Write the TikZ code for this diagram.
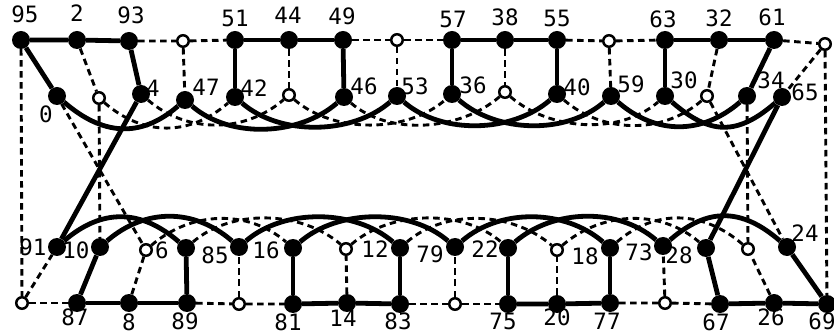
\documentclass[tikz,border=0pt]{standalone}
\usepackage{fontspec}
\newfontfamily\lblfont{DejaVu Sans Mono}
\pgfdeclarelayer{edges}
\pgfsetlayers{edges,main}
\begin{document}
\begin{tikzpicture}[x=1pt,y=-1pt,
  fnode/.style={circle,fill=black,inner sep=0pt,minimum size=18pt},
  onode/.style={circle,draw=black,fill=white,line width=2.5pt,inner sep=0pt,minimum size=11.5pt},
  lbl/.style={inner sep=0pt,font=\lblfont\fontsize{22.5}{24}\selectfont},
  sedge/.style={line width=4.8pt},
  dedge/.style={line width=2.9pt,dash pattern=on 6.5pt off 4.5pt}]
\useasboundingbox (0,0) rectangle (834,336);
% row 1
\node[fnode] (n95) at (21,40) {};
\node[fnode] (n2) at (77,40) {};
\node[fnode] (n93) at (129,41) {};
\node[onode] (t1) at (183,41) {};
\node[fnode] (n51) at (235,40) {};
\node[fnode] (n44) at (289,40) {};
\node[fnode] (n49) at (343,40) {};
\node[onode] (t2) at (397,40) {};
\node[fnode] (n57) at (452,40) {};
\node[fnode] (n38) at (505,40) {};
\node[fnode] (n55) at (557,40) {};
\node[onode] (t3) at (609,41) {};
\node[fnode] (n63) at (665,40) {};
\node[fnode] (n32) at (719,40) {};
\node[fnode] (n61) at (774,40) {};
\node[onode] (t4) at (825,44) {};
% row 2
\node[fnode] (n0) at (57,96) {};
\node[onode] (u1) at (99,98) {};
\node[fnode] (n4) at (141,94) {};
\node[fnode] (n47) at (185,100) {};
\node[fnode] (n42) at (235,97) {};
\node[onode] (u2) at (289,95) {};
\node[fnode] (n46) at (344,97) {};
\node[fnode] (n53) at (397,96) {};
\node[fnode] (n36) at (452,94) {};
\node[onode] (u3) at (505,92) {};
\node[fnode] (n40) at (557,94) {};
\node[fnode] (n59) at (611,96) {};
\node[fnode] (n30) at (665,96) {};
\node[onode] (u4) at (707,96) {};
\node[fnode] (n34) at (747,96) {};
\node[fnode] (n65) at (782,97) {};
% row 3
\node[fnode] (n91) at (57,247) {};
\node[fnode] (n10) at (100,247) {};
\node[onode] (v1) at (146,250) {};
\node[fnode] (n6) at (186,248) {};
\node[fnode] (n85) at (239,247) {};
\node[fnode] (n16) at (293,248) {};
\node[onode] (v2) at (346,249) {};
\node[fnode] (n12) at (400,248) {};
\node[fnode] (n79) at (455,247) {};
\node[fnode] (n22) at (508,248) {};
\node[onode] (v3) at (557,250) {};
\node[fnode] (n18) at (610,248) {};
\node[fnode] (n73) at (663,246) {};
\node[fnode] (n28) at (706,248) {};
\node[onode] (v4) at (748,249) {};
\node[fnode] (n24) at (787,247) {};
% row 4
\node[onode] (w1) at (22,303) {};
\node[fnode] (n87) at (77,303) {};
\node[fnode] (n8) at (129,303) {};
\node[fnode] (n89) at (187,303) {};
\node[onode] (w2) at (239,304) {};
\node[fnode] (n81) at (293,304) {};
\node[fnode] (n14) at (347,303) {};
\node[fnode] (n83) at (400,304) {};
\node[onode] (w3) at (455,304) {};
\node[fnode] (n75) at (508,304) {};
\node[fnode] (n20) at (557,304) {};
\node[fnode] (n77) at (610,303) {};
\node[onode] (w4) at (665,303) {};
\node[fnode] (n67) at (720,304) {};
\node[fnode] (n26) at (774,303) {};
\node[fnode] (n69) at (827,304) {};
% labels
\node[lbl] (l95) at (25,14) {95};
\node[lbl] (l2) at (77,13) {2};
\node[lbl] (l93) at (131,15) {93};
\node[lbl] (l51) at (235,18) {51};
\node[lbl] (l44) at (288,15) {44};
\node[lbl] (l49) at (342,16) {49};
\node[lbl] (l57) at (453,19) {57};
\node[lbl] (l38) at (505,17) {38};
\node[lbl] (l55) at (557,18) {55};
\node[lbl] (l63) at (663,19) {63};
\node[lbl] (l32) at (719,18) {32};
\node[lbl] (l61) at (772,17) {61};
\node[lbl] (l0) at (46,114) {0};
\node[lbl] (l4) at (153,88) {4};
\node[lbl] (l47) at (206,87) {47};
\node[lbl] (l42) at (254,88) {42};
\node[lbl] (l46) at (364,86) {46};
\node[lbl] (l53) at (415,86) {53};
\node[lbl] (l36) at (473,85) {36};
\node[lbl] (l40) at (577,87) {40};
\node[lbl] (l59) at (631,84) {59};
\node[lbl] (l30) at (684,80) {30};
\node[lbl] (l34) at (771,80) {34};
\node[lbl] (l65) at (805,92) {65};
\node[lbl] (l91) at (33,247) {91};
\node[lbl] (l10) at (76,250) {10};
\node[lbl] (l6) at (162,250) {6};
\node[lbl] (l85) at (215,255) {85};
\node[lbl] (l16) at (266,250) {16};
\node[lbl] (l12) at (375,249) {12};
\node[lbl] (l79) at (430,254) {79};
\node[lbl] (l22) at (485,249) {22};
\node[lbl] (l18) at (585,256) {18};
\node[lbl] (l73) at (639,252) {73};
\node[lbl] (l28) at (679,255) {28};
\node[lbl] (l24) at (805,233) {24};
\node[lbl] (l87) at (75,317) {87};
\node[lbl] (l8) at (129,322) {8};
\node[lbl] (l89) at (185,321) {89};
\node[lbl] (l81) at (288,322) {81};
\node[lbl] (l14) at (343,318) {14};
\node[lbl] (l83) at (398,321) {83};
\node[lbl] (l75) at (503,321) {75};
\node[lbl] (l20) at (557,317) {20};
\node[lbl] (l77) at (607,321) {77};
\node[lbl] (l67) at (716,322) {67};
\node[lbl] (l26) at (771,317) {26};
\node[lbl] (l69) at (822,321) {69};
\begin{pgfonlayer}{edges}
% solid straight
\draw[sedge] (n95) -- (n2) -- (n93);
\draw[sedge] (n51) -- (n44) -- (n49);
\draw[sedge] (n57) -- (n38) -- (n55);
\draw[sedge] (n63) -- (n32) -- (n61);
\draw[sedge] (n87) -- (n8) -- (n89);
\draw[sedge] (n81) -- (n14) -- (n83);
\draw[sedge] (n75) -- (n20) -- (n77);
\draw[sedge] (n67) -- (n26) -- (n69);
\draw[sedge] (n95) -- (n0);
\draw[sedge] (n93) -- (n4);
\draw[sedge] (n51) -- (n42);
\draw[sedge] (n49) -- (n46);
\draw[sedge] (n57) -- (n36);
\draw[sedge] (n55) -- (n40);
\draw[sedge] (n63) -- (n30);
\draw[sedge] (n61) -- (n34);
\draw[sedge] (n87) -- (n10);
\draw[sedge] (n89) -- (n6);
\draw[sedge] (n81) -- (n16);
\draw[sedge] (n83) -- (n12);
\draw[sedge] (n75) -- (n22);
\draw[sedge] (n77) -- (n18);
\draw[sedge] (n67) -- (n28);
\draw[sedge] (n69) -- (n24);
\draw[sedge] (n4) -- (n91);
\draw[sedge] (n65) -- (n28);
% solid arcs row 2
\draw[sedge] (n0) .. controls +(45,39) and +(-45,39) .. (n47);
\draw[sedge] (n47) .. controls +(45,39) and +(-45,39) .. (n46);
\draw[sedge] (n42) .. controls +(45,39) and +(-45,39) .. (n53);
\draw[sedge] (n53) .. controls +(45,39) and +(-45,39) .. (n40);
\draw[sedge] (n36) .. controls +(45,39) and +(-45,39) .. (n59);
\draw[sedge] (n59) .. controls +(45,39) and +(-45,39) .. (n34);
\draw[sedge] (n30) .. controls +(45,39) and +(-45,39) .. (n65);
% solid arcs row 3
\draw[sedge] (n91) .. controls +(45,-39) and +(-45,-39) .. (n6);
\draw[sedge] (n10) .. controls +(45,-39) and +(-45,-39) .. (n85);
\draw[sedge] (n85) .. controls +(45,-39) and +(-45,-39) .. (n12);
\draw[sedge] (n16) .. controls +(45,-39) and +(-45,-39) .. (n79);
\draw[sedge] (n79) .. controls +(45,-39) and +(-45,-39) .. (n18);
\draw[sedge] (n22) .. controls +(45,-39) and +(-45,-39) .. (n73);
\draw[sedge] (n73) .. controls +(45,-39) and +(-45,-39) .. (n24);
% dashed straight
\draw[dedge] (n93) -- (t1) -- (n51);
\draw[dedge] (n49) -- (t2) -- (n57);
\draw[dedge] (n55) -- (t3) -- (n63);
\draw[dedge] (n61) -- (t4);
\draw[dedge] (w1) -- (n87);
\draw[dedge] (n89) -- (w2) -- (n81);
\draw[dedge] (n83) -- (w3) -- (n75);
\draw[dedge] (n77) -- (w4) -- (n67);
\draw[dedge] (n2) -- (u1);
\draw[dedge] (t1) -- (n47);
\draw[dedge] (n44) -- (u2);
\draw[dedge] (t2) -- (n53);
\draw[dedge] (n38) -- (u3);
\draw[dedge] (t3) -- (n59);
\draw[dedge] (n32) -- (u4);
\draw[dedge] (t4) -- (n65);
\draw[dedge] (w1) -- (n91);
\draw[dedge] (n8) -- (v1);
\draw[dedge] (w2) -- (n85);
\draw[dedge] (n14) -- (v2);
\draw[dedge] (w3) -- (n79);
\draw[dedge] (n20) -- (v3);
\draw[dedge] (w4) -- (n73);
\draw[dedge] (n26) -- (v4);
\draw[dedge] (n95) -- (w1);
\draw[dedge] (t4) -- (n69);
\draw[dedge] (n0) -- (v1);
\draw[dedge] (u1) -- (n10);
\draw[dedge] (n34) -- (v4);
\draw[dedge] (u4) -- (n24);
% dashed arcs row 2
\draw[dedge] (u1) .. controls +(45,39) and +(-45,39) .. (n42);
\draw[dedge] (n4) .. controls +(45,39) and +(-45,39) .. (u2);
\draw[dedge] (u2) .. controls +(45,39) and +(-45,39) .. (n36);
\draw[dedge] (n46) .. controls +(45,39) and +(-45,39) .. (u3);
\draw[dedge] (u3) .. controls +(45,39) and +(-45,39) .. (n30);
\draw[dedge] (n40) .. controls +(45,39) and +(-45,39) .. (u4);
% dashed arcs row 3
\draw[dedge] (v1) .. controls +(45,-39) and +(-45,-39) .. (n16);
\draw[dedge] (n6) .. controls +(45,-39) and +(-45,-39) .. (v2);
\draw[dedge] (v2) .. controls +(45,-39) and +(-45,-39) .. (n22);
\draw[dedge] (n12) .. controls +(45,-39) and +(-45,-39) .. (v3);
\draw[dedge] (v3) .. controls +(45,-39) and +(-45,-39) .. (n28);
\draw[dedge] (n18) .. controls +(45,-39) and +(-45,-39) .. (v4);
\end{pgfonlayer}
\end{tikzpicture}
\end{document}
